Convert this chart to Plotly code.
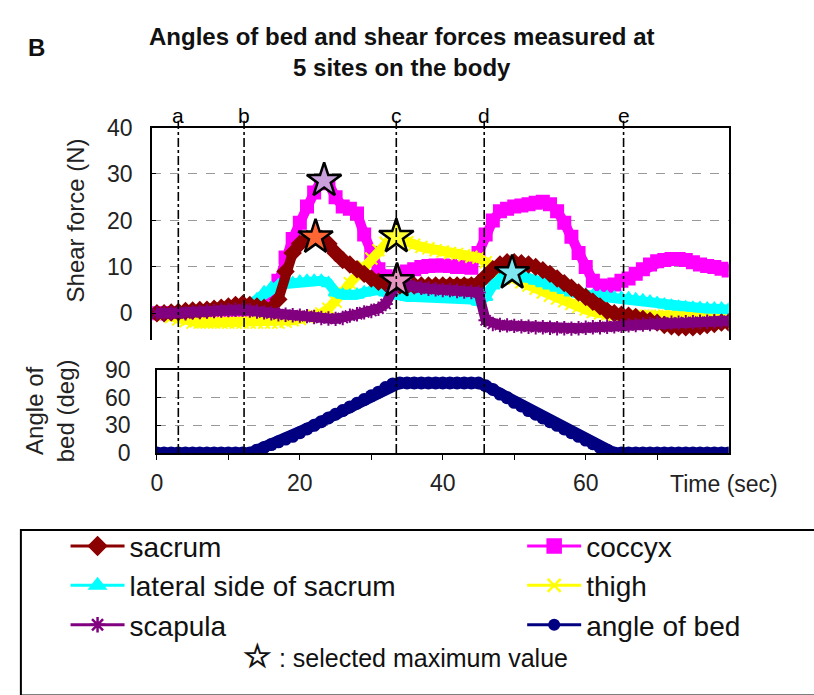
import plotly.graph_objects as go

# ---------------- data ----------------
time_s = list(range(0, 81))

sacrum = [0, 0, 0.2, 0.3, 0.5, 0.6, 0.7, 0.8, 1, 1.2,
          1.5, 1.8, 2, 1.8, 1.5, 1.2, 1, 3, 9, 13,
          15, 16, 16.5, 16, 15, 13, 11.5, 10.5, 9.5, 8.5,
          7.5, 6.8, 6.5, 6.2, 6, 6, 6, 6, 6, 6,
          6, 6, 6, 6, 6, 6.5, 8, 9.5, 10.5, 11,
          11, 10.8, 10.5, 10, 9.3, 8.5, 7.5, 6.5, 5.5, 4.5,
          3.5, 2.5, 1.5, 0.5, 0, -0.3, -0.5, -0.8, -1.2, -1.6,
          -2, -2.5, -2.8, -3, -3, -3, -2.8, -2.5, -2.3, -2,
          -2]

coccyx = [0, 0, 0, 0, 0, 0, 0, 0, 0, 0,
          0.3, 0.5, 0.5, 0.3, 0.3, 0.5, 2, 7, 12, 16,
          19.5, 23, 26, 28.5, 28, 25, 23, 22.5, 21.5, 17,
          13, 9.5, 8, 7.5, 8, 9, 9.5, 10, 10.2, 10.3,
          10.3, 10.2, 10, 10, 9.8, 13, 17, 20, 22, 22.5,
          23, 23.2, 23.5, 23.8, 24, 23.5, 22, 19.5, 16.5, 13,
          10, 7, 6, 5.8, 6.2, 7, 7.5, 8.5, 9.5, 10.5,
          11.2, 11.5, 11.7, 11.7, 11.5, 11, 10.5, 10.2, 10, 9.6,
          9.2]

lateral = [0, 0, 0.2, 0.3, 0.5, 0.5, 0.5, 0.7, 0.8, 1,
           1.2, 1.3, 1.5, 2, 3, 4.5, 5.5, 6, 6.3, 6.5,
           6.8, 7, 7, 7, 6.5, 4.5, 4, 3.8, 4, 4.5,
           5, 5, 4.5, 4, 3.8, 3.5, 3.5, 3.5, 3.5, 3.5,
           3.5, 3.5, 3.3, 3.2, 3, 2.5, 3.5, 6, 7.5, 8.5,
           8.5, 8, 7.5, 7, 6.5, 6, 5.5, 5, 4.5, 4.2,
           4, 3.8, 3.6, 3.5, 3.4, 3.3, 3.2, 3, 2.8, 2.5,
           2.2, 1.9, 1.6, 1.4, 1.3, 1.2, 1.1, 1, 1, 1,
           0.8]

thigh = [0, -0.3, -0.8, -1.3, -1.7, -2, -2, -2, -2, -2,
         -2, -2, -2, -2, -2, -2, -2, -2, -1.8, -1.5,
         -1.2, -0.8, -0.5, 0, 1, 2.5, 4.5, 6.5, 8.3, 10,
         11.8, 13.6, 15.2, 16.5, 16, 15.3, 14.8, 14.3, 14, 13.6,
         13.3, 13, 12.8, 12.5, 12.2, 12, 11, 10, 9, 8.2,
         7.5, 6.7, 6, 5.3, 4.5, 3.8, 3.2, 2.6, 2, 1.4,
         0.8, 0.3, 0, -0.2, -0.4, -0.5, -0.5, -0.5, -0.5, -0.5,
         -0.5, -0.5, -0.5, -0.5, -0.5, -0.5, -0.5, -0.5, -0.5, -0.6,
         -0.7]

scapula = [0, 0, 0, 0, 0, 0.2, 0.3, 0.4, 0.5, 0.6,
           0.7, 0.8, 0.8, 0.6, 0.4, 0.2, 0, -0.2, -0.3, -0.4,
           -0.5, -0.6, -0.8, -1, -1.1, -1.2, -1, -0.5, -0.2, 0.2,
           0.5, 1, 2, 5, 6.5, 6, 5.7, 5.5, 5.3, 5.2,
           5, 5, 4.8, 4.7, 4.6, 4.5, -1.5, -2.3, -2.5, -2.6,
           -2.7, -2.8, -2.9, -3, -3, -3.1, -3.2, -3.2, -3.3, -3.2,
           -3.1, -3, -3, -2.9, -2.8, -2.7, -2.6, -2.5, -2.4, -2.3,
           -2.2, -2.1, -2, -2, -1.9, -1.9, -1.8, -1.8, -1.7, -1.7,
           -1.6]

bed_angle = [0, 0, 0, 0, 0, 0, 0, 0, 0, 0,
             0, 0, 0, 0, 3, 6, 9, 12, 15, 18,
             22, 26, 30, 34, 38, 42, 46, 50, 54, 58,
             62, 66, 71, 75, 76, 76, 76, 76, 76, 76,
             76, 76, 76, 76, 76, 76, 73, 69, 64, 60,
             55, 51, 46, 42, 38, 34, 30, 26, 22, 18,
             14, 10, 6, 3, 0, 0, 0, 0, 0, 0,
             0, 0, 0, 0, 0, 0, 0, 0, 0, 0,
             0]

# event markers a-e (seconds)
events_t = [3.0, 12.2, 33.5, 45.8, 65.3]
events_lbl = ["a", "b", "c", "d", "e"]

# selected maximum values (stars)
star_t = [22.2, 23.4, 33.5, 33.6, 49.7]
star_v = [16.4, 28.6, 16.5, 7.0, 8.7]
star_fill = ["#FF6633", "#C9A0DC", "#FFFF33", "#E795C0", "#7FE5F0"]

x_tickvals = [0, 10, 20, 30, 40, 50, 60, 70]
x_ticktext = ["0", "", "20", "", "40", "", "60", ""]
force_ticks = [0, 10, 20, 30, 40]
angle_ticks = [0, 30, 60, 90]

# ---------------- styling ----------------
W, H = 814, 695
FONT = "Liberation Sans, Arial, sans-serif"


def px(x):
    return x / W


def py(y):
    return 1 - y / H


series = {
    "sacrum": dict(y=sacrum, color="#8B0000", symbol="diamond", legend="legend"),
    "coccyx": dict(y=coccyx, color="#FF00FF", symbol="square", legend="legend2"),
    "lateral side of sacrum": dict(y=lateral, color="#00FFFF", symbol="triangle-up", legend="legend"),
    "thigh": dict(y=thigh, color="#FFFF00", symbol="x-thin", legend="legend2"),
    "scapula": dict(y=scapula, color="#800080", symbol="asterisk", legend="legend"),
}
draw_order = ["coccyx", "thigh", "lateral side of sacrum", "sacrum", "scapula"]
legend_order = ["sacrum", "coccyx", "lateral side of sacrum", "thigh", "scapula"]

fig = go.Figure()

# data bands (top panel)
for name in draw_order:
    s = series[name]
    fig.add_trace(go.Scatter(
        x=time_s, y=s["y"], mode="lines+markers", xaxis="x2", yaxis="y2",
        line=dict(color=s["color"], width=10),
        marker=dict(symbol=s["symbol"], size=12, color=s["color"],
                    line=dict(color=s["color"], width=2)),
        showlegend=False, hoverinfo="skip"))

# stars
fig.add_trace(go.Scatter(
    x=star_t, y=star_v, mode="markers", xaxis="x2", yaxis="y2",
    marker=dict(symbol="star", size=26, color=star_fill,
                line=dict(color="black", width=2.5)),
    showlegend=False, hoverinfo="skip"))

# bed angle (bottom panel)
fig.add_trace(go.Scatter(
    x=time_s, y=bed_angle, mode="lines+markers", xaxis="x", yaxis="y",
    line=dict(color="#000080", width=11),
    marker=dict(symbol="circle", size=13, color="#000080"),
    showlegend=False, hoverinfo="skip"))

# legend-only entries
for name in legend_order:
    s = series[name]
    fig.add_trace(go.Scatter(
        x=[None], y=[None], mode="lines+markers", name=name, legend=s["legend"],
        line=dict(color=s["color"], width=3),
        marker=dict(symbol=s["symbol"], size=13, color=s["color"],
                    line=dict(color=s["color"], width=2.5))))
fig.add_trace(go.Scatter(
    x=[None], y=[None], mode="lines+markers", name="angle of bed", legend="legend2",
    line=dict(color="#000080", width=3),
    marker=dict(symbol="circle", size=12, color="#000080")))

# event lines
shapes = []
for t in events_t:
    shapes.append(dict(type="line", xref="x", yref="paper", x0=t, x1=t,
                       y0=py(457), y1=py(112),
                       line=dict(color="black", width=1.6, dash="dashdot"),
                       layer="above"))
# legend box
shapes.append(dict(type="rect", xref="paper", yref="paper",
                   x0=px(15), x1=1.02, y0=-0.02, y1=py(537),
                   line=dict(color="black", width=2), fillcolor="rgba(0,0,0,0)"))

annotations = []
for t, lbl in zip(events_t, events_lbl):
    annotations.append(dict(text=lbl, xref="x", yref="paper", x=t, y=py(107),
                            showarrow=False, xanchor="center", yanchor="middle",
                            font=dict(family=FONT, size=21, color="black")))
annotations += [
    dict(text="<b>Angles of bed and shear forces measured at<br>5 sites on the body</b>",
         xref="paper", yref="paper", x=px(399), y=py(41), showarrow=False,
         xanchor="center", yanchor="middle", align="center",
         font=dict(family=FONT, size=24, color="#111")),
    dict(text="<b>B</b>", xref="paper", yref="paper", x=px(31), y=py(36),
         showarrow=False, xanchor="center", yanchor="middle",
         font=dict(family=FONT, size=24, color="#111")),
    dict(text="Shear force (N)", xref="paper", yref="paper", x=px(70), y=py(215),
         showarrow=False, textangle=-90, xanchor="center", yanchor="middle",
         font=dict(family=FONT, size=24, color="#222")),
    dict(text="Angle of<br>bed (deg)", xref="paper", yref="paper", x=px(44), y=py(413),
         showarrow=False, textangle=-90, xanchor="center", yanchor="middle",
         font=dict(family=FONT, size=24, color="#222")),
    dict(text="Time (sec)", xref="paper", yref="paper", x=px(667), y=py(489),
         showarrow=False, xanchor="left", yanchor="middle",
         font=dict(family=FONT, size=23, color="#222")),
    dict(text="<span style='font-size:32px'><b>☆</b></span> : selected maximum value",
         xref="paper", yref="paper",
         x=px(402), y=py(668), showarrow=False, xanchor="center", yanchor="middle",
         font=dict(family=FONT, size=25, color="#111")),
]

axis_font = dict(family=FONT, size=23, color="#222")
legend_font = dict(family=FONT, size=28, color="#111")

fig.update_layout(
    width=W, height=H,
    margin=dict(l=0, r=0, t=0, b=0),
    paper_bgcolor="white", plot_bgcolor="white",
    shapes=shapes, annotations=annotations,
    # bottom panel x axis
    xaxis=dict(domain=[px(152), px(728)], range=[0, 80], anchor="y",
               tickvals=x_tickvals, ticktext=x_ticktext, ticks="outside", ticklen=5,
               tickcolor="black", showline=True, linecolor="black", linewidth=1.5,
               mirror=True, showgrid=False, zeroline=False, tickfont=axis_font,
               ticklabelstandoff=4),
    yaxis=dict(domain=[py(457), py(371)], range=[0, 90], anchor="x",
               tickvals=angle_ticks, ticks="inside", ticklen=4, tickcolor="black",
               showline=True, linecolor="black", linewidth=1.5, mirror=True,
               showgrid=True, gridcolor="#999", griddash="dash", gridwidth=1,
               zeroline=False, tickfont=axis_font, ticklabelstandoff=20),
    # top panel
    xaxis2=dict(domain=[px(147), px(728)], range=[-0.7, 80], anchor="y2", side="top",
                showline=True, linecolor="black", linewidth=1.5, mirror=False,
                showticklabels=False, ticks="", showgrid=False, zeroline=False),
    yaxis2=dict(domain=[py(340), py(119)], range=[-5.8, 40], anchor="x2",
                tickvals=force_ticks, ticks="inside", ticklen=4, tickcolor="black",
                showline=True, linecolor="black", linewidth=1.5, mirror=True,
                showgrid=True, gridcolor="#999", griddash="dash", gridwidth=1,
                zeroline=False, tickfont=axis_font, ticklabelstandoff=13),
    legend=dict(x=px(60), y=py(528), xanchor="left", yanchor="top",
                orientation="v", bgcolor="rgba(0,0,0,0)", borderwidth=0,
                itemwidth=54, font=legend_font,
                itemclick=False, itemdoubleclick=False),
    legend2=dict(x=px(520), y=py(528), xanchor="left", yanchor="top",
                 orientation="v", bgcolor="rgba(0,0,0,0)", borderwidth=0,
                 itemwidth=54, font=legend_font,
                 itemclick=False, itemdoubleclick=False),
)

fig.write_html("out.html")
